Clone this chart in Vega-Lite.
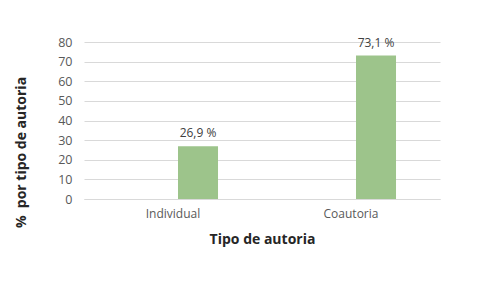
{
  "$schema": "https://vega.github.io/schema/vega-lite/v6.json",
  "width": 356,
  "height": 157,
  "autosize": {"type": "none"},
  "padding": {"left": 84, "top": 42, "right": 45, "bottom": 85},
  "background": "white",
  "config": {
    "view": {"stroke": null},
    "font": "Open Sans",
    "axis": {"labelFont": "Open Sans", "titleFont": "Open Sans"}
  },
  "data": {
    "values": [
      {"tipo": "Individual", "serie": "Autoria", "pct": 26.9, "label": "26,9 %"},
      {"tipo": "Coautoria", "serie": "Autoria", "pct": 73.1, "label": "73,1 %"}
    ]
  },
  "encoding": {
    "x": {
      "field": "tipo",
      "type": "nominal",
      "sort": ["Individual", "Coautoria"],
      "scale": {"paddingInner": 0.438, "paddingOuter": 0.219},
      "axis": {
        "title": "Tipo de autoria",
        "labelAngle": 0,
        "labelFontSize": 12,
        "labelColor": "#595959",
        "labelPadding": 9,
        "ticks": false,
        "domainColor": "#d9d9d9",
        "titleFontSize": 14,
        "titleFontWeight": "bold",
        "titleColor": "#262626",
        "titleY": 40,
        "titleBaseline": "middle"
      }
    },
    "xOffset": {
      "field": "serie",
      "type": "nominal",
      "scale": {"domain": ["vacio", "Autoria"], "paddingInner": 0.2, "paddingOuter": 0.1}
    },
    "y": {
      "field": "pct",
      "type": "quantitative",
      "scale": {"domain": [0, 80]},
      "axis": {
        "title": "% \u00a0por tipo de autoria",
        "values": [0, 10, 20, 30, 40, 50, 60, 70, 80],
        "labelFontSize": 12.5,
        "labelColor": "#595959",
        "labelPadding": 12,
        "ticks": false,
        "domain": false,
        "gridColor": "#d9d9d9",
        "titleFontSize": 14,
        "titleFontWeight": "bold",
        "titleColor": "#262626",
        "titleX": -63,
        "titleY": 110,
        "titleBaseline": "middle",
        "titleAlign": "center"
      }
    }
  },
  "layer": [
    {"mark": {"type": "bar", "color": "#9dc48b"}},
    {
      "mark": {"type": "text", "dy": -9, "baseline": "alphabetic", "fontSize": 12, "color": "#404040"},
      "encoding": {"text": {"field": "label", "type": "nominal"}}
    }
  ]
}
